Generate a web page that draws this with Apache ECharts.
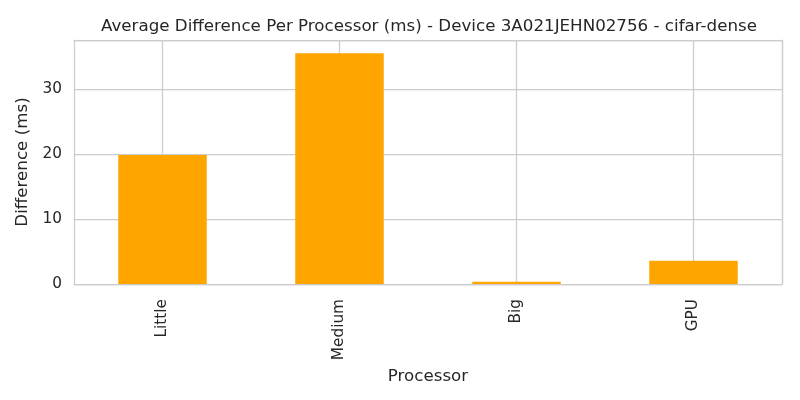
<!DOCTYPE html>
<html>
<head>
<meta charset="utf-8">
<script src="https://cdn.jsdelivr.net/npm/echarts@6/dist/echarts.min.js"></script>
<style>html,body{margin:0;padding:0;background:#fff}#c{width:800px;height:400px}</style>
</head>
<body>
<div id="c"></div>
<script>
const categories = ["Little", "Medium", "Big", "GPU"];
const differences = [19.9, 35.6, 0.35, 3.58];
const yTicks = [0, 10, 20, 30];
const titleText = "Average Difference Per Processor (ms) - Device 3A021JEHN02756 - cifar-dense";

const font = "DejaVu Sans";
const txt = "#262626";
const grid = "#cccccc";
const frame = {show: true, onZero: false, lineStyle: {color: grid, width: 1.25}};
// helper axis with two slots per category so slot boundaries fall on category centres
const halfSlots = categories.flatMap(c => [c + '_a', c + '_b']);
const chart = echarts.init(document.getElementById('c'), null, {renderer: 'canvas'});
chart.setOption({
  animation: false,
  backgroundColor: '#ffffff',
  title: {
    text: titleText,
    left: 424, top: 13, textAlign: 'center',
    textStyle: {fontFamily: font, fontSize: 16.7, fontWeight: 'normal', color: txt}
  },
  grid: {left: 74, right: 18, top: 40, bottom: 116},
  xAxis: [{
    type: 'category', data: categories,
    name: 'Processor', nameLocation: 'middle', nameGap: 80,
    nameTextStyle: {fontFamily: font, fontSize: 16.7, color: txt},
    axisLine: frame, axisTick: {show: false},
    axisLabel: {rotate: 90, margin: 15, fontFamily: font, fontSize: 15.3, color: txt},
    splitLine: {show: false}
  }, {
    type: 'category', data: halfSlots, position: 'top',
    axisLine: frame, axisTick: {show: false}, axisLabel: {show: false},
    splitLine: {show: true, interval: (i) => i % 2 === 1, lineStyle: {color: grid, width: 1.25}}
  }],
  yAxis: [{
    type: 'value', min: 0, max: 37.63, interval: 10,
    name: 'Difference (ms)', nameLocation: 'middle', nameGap: 37,
    nameTextStyle: {fontFamily: font, fontSize: 16.7, color: txt},
    axisLine: frame, axisTick: {show: false},
    axisLabel: {margin: 12, fontFamily: font, fontSize: 15.3, color: txt,
      formatter: v => yTicks.includes(v) ? String(v) : ''},
    splitLine: {show: true, lineStyle: {color: grid, width: 1.25}}
  }, {
    type: 'value', min: 0, max: 37.63, interval: 10, position: 'right',
    axisLine: frame, axisTick: {show: false}, axisLabel: {show: false},
    splitLine: {show: false}
  }],
  series: [
    {
      type: 'bar', xAxisIndex: 0, yAxisIndex: 0, data: differences, barWidth: '50%',
      itemStyle: {color: '#FFA500'}
    }
  ]
});
</script>
</body>
</html>
